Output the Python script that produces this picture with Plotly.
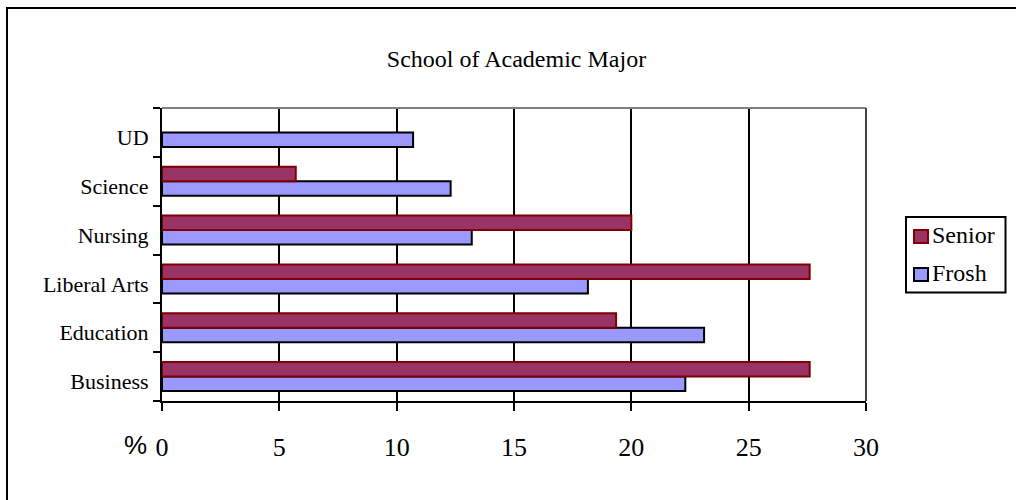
import plotly.graph_objects as go

# ---- data ----
categories = ["Business", "Education", "Liberal Arts", "Nursing", "Science", "UD"]
frosh = [22.3, 23.1, 18.15, 13.2, 12.3, 10.7]
senior = [27.6, 19.35, 27.6, 20.0, 5.7, None]
x_ticks = [0, 5, 10, 15, 20, 25, 30]
title_text = "School of Academic Major"
legend_names = ["Senior", "Frosh"]

W, H = 1016, 500
L, R, T, B = 162, 150, 108, 99
PW, PH = W - L - R, H - T - B

def px(xp):
    return (xp - L) / PW

def py(yp):
    return (H - B - yp) / PH

SERIF = "Liberation Serif, Times New Roman, serif"
SANS = "Liberation Sans, Arial, sans-serif"
SEN_FILL, SEN_LINE = "#993366", "#800000"
FR_FILL, FR_LINE = "#9999FF", "#000000"

fig = go.Figure()
fig.add_trace(go.Bar(y=categories, x=frosh, orientation="h", name=legend_names[1],
                     marker=dict(color=FR_FILL, line=dict(color=FR_LINE, width=2)),
                     showlegend=False))
fig.add_trace(go.Bar(y=categories, x=senior, orientation="h", name=legend_names[0],
                     marker=dict(color=SEN_FILL, line=dict(color=SEN_LINE, width=2)),
                     showlegend=False))

shapes = [
    # outer chart frame
    dict(type="rect", xref="paper", yref="paper", x0=px(7), x1=px(1030), y0=py(520), y1=py(8),
         line=dict(color="black", width=2), fillcolor="rgba(0,0,0,0)", layer="below"),
    # plot-area top and right borders
    dict(type="line", xref="paper", yref="paper", x0=0, x1=1, y0=1, y1=1,
         line=dict(color="#808080", width=2)),
    dict(type="line", xref="paper", yref="paper", x0=1, x1=1, y0=0, y1=1,
         line=dict(color="#404040", width=2)),
    # legend box
    dict(type="rect", xref="paper", yref="paper", x0=px(906), x1=px(1005.5), y0=py(292.5), y1=py(217),
         line=dict(color="black", width=2), fillcolor="white"),
    # legend swatches
    dict(type="rect", xref="paper", yref="paper", x0=px(914), x1=px(928), y0=py(243), y1=py(230),
         line=dict(color=SEN_LINE, width=2), fillcolor=SEN_FILL),
    dict(type="rect", xref="paper", yref="paper", x0=px(914), x1=px(928), y0=py(281), y1=py(268),
         line=dict(color=FR_LINE, width=2), fillcolor=FR_FILL),
]

annotations = [
    dict(text=legend_names[0], xref="paper", yref="paper", x=px(930), y=py(235), xanchor="left",
         yanchor="middle", showarrow=False, font=dict(family=SERIF, size=24, color="black")),
    dict(text=legend_names[1], xref="paper", yref="paper", x=px(930), y=py(273), xanchor="left",
         yanchor="middle", showarrow=False, font=dict(family=SERIF, size=24, color="black")),
    dict(text="%", xref="paper", yref="paper", x=px(135), y=py(445), xanchor="center",
         yanchor="middle", showarrow=False, font=dict(family=SANS, size=26, color="black")),
]

fig.update_layout(
    width=W, height=H,
    margin=dict(l=L, r=R, t=T, b=B, pad=0),
    paper_bgcolor="white", plot_bgcolor="white",
    barmode="group", bargap=0.405, bargroupgap=0,
    title=dict(text=title_text, x=px(516.5), xref="paper", y=(H - 59) / H, yref="container",
               xanchor="center", yanchor="middle",
               font=dict(family=SERIF, size=24, color="black")),
    shapes=shapes, annotations=annotations,
    showlegend=False,
    xaxis=dict(range=[0, 30], tickvals=x_ticks, ticktext=[str(v) for v in x_ticks],
               showgrid=True, gridcolor="black", gridwidth=2, zeroline=False,
               showline=True, linecolor="black", linewidth=2,
               ticks="outside", ticklen=8, tickwidth=2, tickcolor="black",
               ticklabelstandoff=14,
               tickfont=dict(family=SERIF, size=26, color="black"), fixedrange=True),
    yaxis=dict(categoryorder="array", categoryarray=categories,
               showgrid=False, zeroline=False,
               showline=True, linecolor="black", linewidth=2,
               ticks="outside", tickson="boundaries", ticklen=7, tickwidth=2, tickcolor="black",
               ticklabelstandoff=7, ticklabelshift=5,
               tickfont=dict(family=SERIF, size=22, color="black"), fixedrange=True),
)

fig.write_html("out.html")
